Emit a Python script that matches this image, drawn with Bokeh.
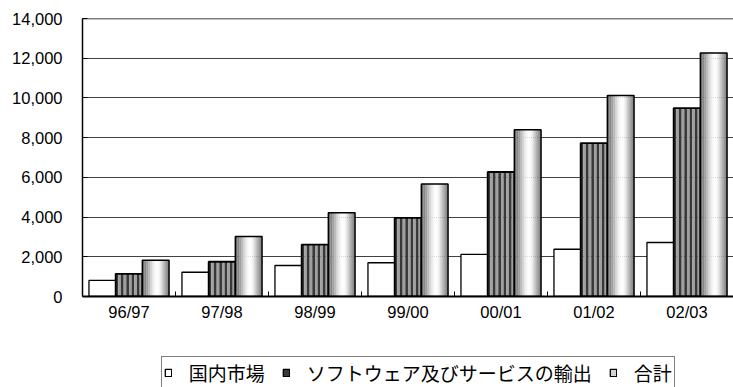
from bokeh.plotting import figure
from bokeh.layouts import column
from bokeh.models import (ColumnDataSource, Range1d, FixedTicker, NumeralTickFormatter,
                          Legend, LegendItem, Span)
from bokeh.transform import dodge
from bokeh.embed import file_html
from bokeh.resources import INLINE

# Fiscal years and market size values
periods = ["96/97", "97/98", "98/99", "99/00", "00/01", "01/02", "02/03"]
domestic = [810, 1220, 1560, 1700, 2120, 2380, 2720]
exports = [1140, 1750, 2610, 3960, 6270, 7720, 9490]
total = [1830, 3020, 4220, 5660, 8400, 10120, 12260]
y_ticks = [0, 2000, 4000, 6000, 8000, 10000, 12000, 14000]

label_names = ["国内市場", "ソフトウェア及びサービスの輸出", "合計"]

xpos = [i + 0.5 for i in range(len(periods))]
source = ColumnDataSource(dict(x=xpos, domestic=domestic, exports=exports, total=total))

BAR_W = 0.287
FONT = "Liberation Sans"
EX_DARK, EX_LIGHT = "#383838", "#a0a0a0"

p = figure(width=733, height=340, output_backend="svg", toolbar_location=None,
           x_range=Range1d(0, len(periods)), y_range=Range1d(0, 14000),
           min_border_left=82, min_border_top=18, min_border_right=0, min_border_bottom=44)
p.outline_line_color = None
p.background_fill_color = "white"
p.border_fill_color = "white"

# grid
p.xgrid.grid_line_color = None
p.ygrid.grid_line_color = "#404040"
p.ygrid.grid_line_width = 1
p.add_layout(Span(location=14000, dimension="width", line_color="black", line_width=1.5))

# y axis
p.yaxis.ticker = FixedTicker(ticks=y_ticks)
p.yaxis.formatter = NumeralTickFormatter(format="0,0")
p.yaxis.axis_line_color = "black"
p.yaxis.axis_line_width = 1.5
p.yaxis.major_tick_in = 5
p.yaxis.major_tick_out = 0
p.yaxis.minor_tick_line_color = None
p.yaxis.major_label_standoff = 20
p.yaxis.major_label_text_font = FONT
p.yaxis.major_label_text_font_size = "16.5px"
p.yaxis.major_label_text_color = "black"

# x axis: labels at the group centres, short ticks between groups
p.xaxis.ticker = FixedTicker(ticks=xpos, minor_ticks=list(range(1, len(periods))))
p.xaxis.major_label_overrides = {x: lab for x, lab in zip(xpos, periods)}
p.xaxis.axis_line_color = "black"
p.xaxis.axis_line_width = 2
p.xaxis.major_tick_in = 0
p.xaxis.major_tick_out = 0
p.xaxis.minor_tick_in = 5
p.xaxis.minor_tick_out = 0
p.xaxis.minor_tick_line_color = "black"
p.xaxis.major_label_standoff = 6
p.xaxis.major_label_text_font = FONT
p.xaxis.major_label_text_font_size = "16.5px"
p.xaxis.major_label_text_color = "black"

# domestic market: plain white bars
p.vbar(x=dodge("x", -BAR_W, range=p.x_range), top="domestic", width=BAR_W,
       source=source, fill_color="white", line_color="black", line_width=1.3)

# exports: vertically striped bars
n_ex = 10
ex_w = BAR_W / n_ex
for k in range(n_ex):
    off = -BAR_W / 2 + ex_w * (k + 0.5)
    col = EX_DARK if k % 2 == 0 else EX_LIGHT
    p.vbar(x=dodge("x", off, range=p.x_range), top="exports", width=ex_w * 1.02,
           source=source, fill_color=col, line_color=None)
p.vbar(x=dodge("x", 0, range=p.x_range), top="exports", width=BAR_W,
       source=source, fill_color=None, line_color="black", line_width=1.8)

# total: cylinder shading built from narrow strips
shades = [112, 134, 160, 186, 210, 230, 245, 254, 250, 234, 206, 178, 152, 132]
n_t = len(shades)
t_w = BAR_W / n_t
for k, g in enumerate(shades):
    off = BAR_W - BAR_W / 2 + t_w * (k + 0.5)
    col = "#{0:02x}{0:02x}{0:02x}".format(g)
    p.vbar(x=dodge("x", off, range=p.x_range), top="total", width=t_w * 1.05,
           source=source, fill_color=col, line_color=None)
p.vbar(x=dodge("x", BAR_W, range=p.x_range), top="total", width=BAR_W,
       source=source, fill_color=None, line_color="black", line_width=1.5)

# legend strip underneath the chart; its key renderers are hidden and only
# lend their styles to the legend entries
leg = figure(width=733, height=47, output_backend="svg", toolbar_location=None,
             x_range=Range1d(0, 1), y_range=Range1d(0, 1),
             x_axis_type=None, y_axis_type=None,
             min_border_left=82, min_border_top=0, min_border_right=0, min_border_bottom=0)
leg.outline_line_color = None
leg.xgrid.grid_line_color = None
leg.ygrid.grid_line_color = None
leg.border_fill_color = "white"

k_dom = leg.vbar(x="x", top="domestic", width=BAR_W, source=source, visible=False,
                 fill_color="white", line_color="black", line_width=1.3)
k_ex = leg.vbar(x="x", top="exports", width=BAR_W, source=source, visible=False,
                fill_color=EX_DARK, line_color="black", line_width=1.3)
k_tot = leg.vbar(x="x", top="total", width=BAR_W, source=source, visible=False,
                 fill_color="#d2d2d2", line_color="black", line_width=1.3)

legend = Legend(items=[
    LegendItem(label=label_names[0], renderers=[k_dom]),
    LegendItem(label=label_names[1], renderers=[k_ex]),
    LegendItem(label=label_names[2], renderers=[k_tot]),
], orientation="horizontal", location=(78.7, -1.5))
legend.label_text_font = "Noto Sans CJK JP"
legend.label_text_font_size = "19px"
legend.label_text_color = "black"
legend.glyph_width = 8
legend.glyph_height = 9
legend.label_standoff = 17
legend.spacing = 17
legend.padding = 2
legend.margin = 0
legend.border_line_color = "black"
legend.border_line_width = 1
legend.background_fill_color = "white"
legend.background_fill_alpha = 1
leg.add_layout(legend)

layout = column(p, leg, spacing=0)
open("out.html", "w").write(file_html(layout, INLINE))
